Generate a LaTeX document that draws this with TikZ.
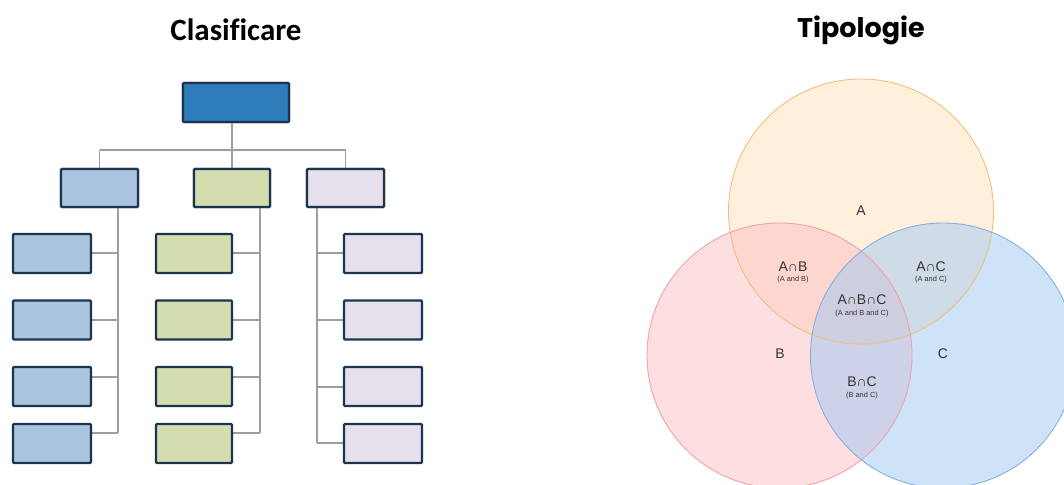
\documentclass[tikz,border=0pt]{standalone}
\usepackage{fontspec}
\setmainfont{Liberation Sans}
\newfontfamily\titlefont[Ligatures=NoCommon]{Carlito}
\newfontfamily\titlefontb{Poppins}
\definecolor{boxline}{HTML}{1C344D}
\definecolor{topfill}{HTML}{2E7DBA}
\definecolor{bluefill}{HTML}{AAC4DE}
\definecolor{greenfill}{HTML}{D4DDAF}
\definecolor{lavfill}{HTML}{E5E0EC}
\definecolor{connc}{HTML}{9A9FA3}
\definecolor{afill}{HTML}{FFE1B9}
\definecolor{bfill}{HTML}{FBBDC3}
\definecolor{cfill}{HTML}{9FC7F1}
\definecolor{aline}{HTML}{F0C07F}
\definecolor{bline}{HTML}{F0A2A9}
\definecolor{cline}{HTML}{86B0E0}
\definecolor{vtext}{HTML}{333333}
\begin{document}
\begin{tikzpicture}[x=1pt,y=-1pt,
  orgbox/.style={draw=boxline,line width=2.4pt,rounded corners=1pt,minimum width=#1,minimum height=38pt,inner sep=0pt},
  orgbox/.default=78pt,
  conn/.style={draw=connc,line width=1.4pt},
  title/.style={font=\titlefont\bfseries\fontsize{31}{36}\selectfont},
  titleb/.style={font=\titlefontb\bfseries\fontsize{27}{32}\selectfont},
  big/.style={text=vtext,font=\fontsize{14}{16}\selectfont},
  small/.style={text=vtext,font=\fontsize{7.4}{9}\selectfont}]
\useasboundingbox (0,0) rectangle (1064,484);
\clip (0,0) rectangle (1064,484);
% titles
\node[title] (t1) at (236,30) {Clasificare};
\node[titleb] (t2) at (861,30) {Tipologie};
% ---------- tree: coordinates ----------
\coordinate (busL) at (99.5,150);
\coordinate (busM) at (232,150);
\coordinate (busR) at (345.5,150);
\coordinate (spL) at (118,207);
\coordinate (spM) at (260,207);
\coordinate (spR) at (317,207);
\coordinate (eL) at (118,433);
\coordinate (eM) at (260,433);
\coordinate (eR) at (317,443);
\foreach \i/\y in {1/253,2/320,3/377,4/433}{
  \coordinate (jL\i) at (118,\y);
  \coordinate (jM\i) at (260,\y);
}
\foreach \i/\y in {1/253,2/320,3/387,4/443}{
  \coordinate (jR\i) at (317,\y);
}
% box positions (named nodes)
\path (236,102.5) node[orgbox=106pt,minimum height=39pt] (top) {};
\path (99.5,188) node[orgbox=77pt] (lA) {};
\path (232,188) node[orgbox=76pt] (lB) {};
\path (345.5,188) node[orgbox=77pt] (lC) {};
\foreach \i/\y in {1/253.5,2/320,3/386.5,4/443.5}{
  \path (52,\y) node[orgbox,minimum height=39pt,draw=none] (a\i) {};
  \path (194,\y) node[orgbox=76pt,minimum height=39pt,draw=none] (b\i) {};
  \path (383,\y) node[orgbox,minimum height=39pt,draw=none] (c\i) {};
}
% connectors
\path[conn] (busM |- top.south) -- (busM);
\path[conn] (busL) -- (busR);
\path[conn] (busL) -- (busL |- lA.north);
\path[conn] (busM) -- (busM |- lB.north);
\path[conn] (busR) -- (busR |- lC.north);
\path[conn] (spL) -- (eL);
\path[conn] (spM) -- (eM);
\path[conn] (spR) -- (eR);
\foreach \i in {1,2,3,4}{
  \path[conn] (jL\i) -- (jL\i -| a\i.east);
  \path[conn] (jM\i) -- (jM\i -| b\i.east);
  \path[conn] (jR\i) -- (jR\i -| c\i.west);
}
% boxes drawn on top of connectors
\node[orgbox=106pt,minimum height=39pt,fill=topfill] at (top) {};
\node[orgbox=77pt,fill=bluefill] at (lA) {};
\node[orgbox=76pt,fill=greenfill] at (lB) {};
\node[orgbox=77pt,fill=lavfill] at (lC) {};
\foreach \i in {1,2,3,4}{
  \node[orgbox,minimum height=39pt,fill=bluefill] at (a\i) {};
  \node[orgbox=76pt,minimum height=39pt,fill=greenfill] at (b\i) {};
  \node[orgbox,minimum height=39pt,fill=lavfill] at (c\i) {};
}
% ---------- Venn ----------
\fill[afill,fill opacity=0.5] (861,211.5) circle[radius=132.5pt];
\fill[bfill,fill opacity=0.5] (779.5,355.5) circle[radius=132.5pt];
\fill[cfill,fill opacity=0.5] (943,355.5) circle[radius=132.5pt];
\draw[aline,line width=0.9pt] (861,211.5) circle[radius=132.5pt];
\draw[bline,line width=0.9pt] (779.5,355.5) circle[radius=132.5pt];
\draw[cline,line width=0.9pt] (943,355.5) circle[radius=132.5pt];
\node[big] (lblA) at (861,211) {A};
\node[big] (lblB) at (780,354) {B};
\node[big] (lblC) at (943,354) {C};
\node[big] (lblAB) at (793,267) {A∩B};
\node[small] (sAB) at (793,280) {(A and B)};
\node[big] (lblAC) at (931,267) {A∩C};
\node[small] (sAC) at (931,280) {(A and C)};
\node[big] (lblABC) at (862,300) {A∩B∩C};
\node[small] (sABC) at (862,314) {(A and B and C)};
\node[big] (lblBC) at (862,382) {B∩C};
\node[small] (sBC) at (862,396) {(B and C)};
\end{tikzpicture}
\end{document}
